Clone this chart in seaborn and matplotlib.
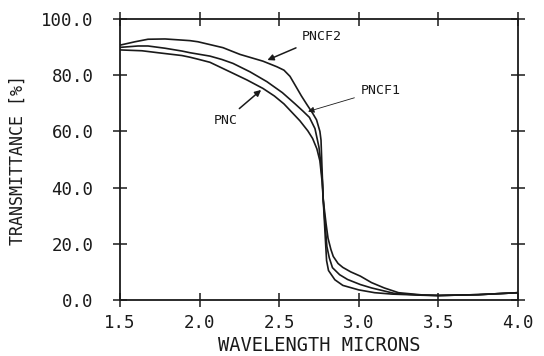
import numpy as np
import pandas as pd
import matplotlib
matplotlib.use("Agg")
import matplotlib.pyplot as plt
import seaborn as sns

# Data
pnc_x = [1.50, 1.638, 1.739, 1.889, 1.94, 1.99, 2.065, 2.191, 2.298, 2.398, 2.47, 2.53, 2.58, 2.63,
         2.68, 2.71, 2.737, 2.756, 2.770, 2.777, 2.790, 2.798, 2.810, 2.850, 2.900, 3.00, 3.10,
         3.209, 3.353, 3.50, 3.75, 4.00]
pnc_y = [89.0, 88.7, 88.0, 87.0, 86.4, 85.7, 84.6, 81.2, 78.3, 75.3, 72.6, 69.8, 66.8, 63.8,
         60.2, 57.5, 53.8, 49.5, 42.0, 35.6, 22.0, 14.0, 10.5, 7.2, 5.2, 3.6, 2.6,
         2.1, 1.8, 1.6, 1.9, 2.6]

pncf1_x = [1.50, 1.613, 1.676, 1.783, 1.889, 1.94, 2.065, 2.14, 2.21, 2.317, 2.423, 2.52, 2.60,
           2.65, 2.69, 2.725, 2.750, 2.763, 2.772, 2.777, 2.790, 2.800, 2.815, 2.835, 2.88, 2.93,
           3.01, 3.08, 3.22, 3.397, 3.50, 3.75, 4.00]
pncf1_y = [89.9, 90.4, 90.4, 89.6, 88.6, 88.0, 86.8, 85.6, 84.2, 81.2, 77.7, 73.8, 69.8,
           67.2, 65.0, 61.0, 54.4, 48.0, 42.0, 35.6, 26.0, 19.0, 15.0, 11.5, 9.0, 7.3,
           5.5, 4.3, 2.4, 1.7, 1.6, 1.9, 2.6]

pncf2_x = [1.50, 1.594, 1.676, 1.783, 1.889, 1.94, 1.99, 2.147, 2.254, 2.398, 2.486, 2.53, 2.568,
           2.60, 2.64, 2.675, 2.71, 2.735, 2.756, 2.763, 2.769, 2.777, 2.795, 2.807, 2.825, 2.84,
           2.87, 2.90, 2.95, 3.01, 3.08, 3.16, 3.25, 3.40, 3.50, 3.75, 4.00]
pncf2_y = [90.7, 91.9, 92.8, 92.9, 92.5, 92.3, 91.9, 89.8, 87.4, 85.0, 83.0, 81.8, 79.6,
           76.5, 72.6, 69.5, 66.5, 64.1, 60.0, 56.9, 47.3, 35.6, 27.0, 22.0, 18.0, 15.5,
           13.0, 11.6, 10.0, 8.5, 6.2, 4.3, 2.6, 1.8, 1.6, 1.9, 2.6]

x_ticks = [1.5, 2.0, 2.5, 3.0, 3.5, 4.0]
y_ticks = [0, 20, 40, 60, 80, 100]

sns.set_style("ticks")
mono = ["DejaVu Sans Mono", "DejaVu Sans"]
plt.rcParams["font.family"] = mono

fig = plt.figure(figsize=(5.44, 3.56), dpi=100)
ax = fig.add_axes([0.2206, 0.1573, 0.952 - 0.2206, 0.9466 - 0.1573])

ink = "#1a1a1a"
for xs, ys in [(pnc_x, pnc_y), (pncf1_x, pncf1_y), (pncf2_x, pncf2_y)]:
    df = pd.DataFrame({"x": xs, "y": ys})
    sns.lineplot(data=df, x="x", y="y", ax=ax, color=ink, linewidth=1.2,
                 sort=False, estimator=None)

ax.set_xlim(1.5, 4.0)
ax.set_ylim(0, 100)
ax.set_xticks(x_ticks)
ax.set_yticks(y_ticks)
ax.set_xticklabels([f"{v:.1f}" for v in x_ticks])
ax.set_yticklabels([f"{v:.1f}" for v in y_ticks])
ax.tick_params(axis="both", which="both", direction="inout", length=10, width=1.1,
               color=ink, labelsize=12.5, labelcolor=ink, top=True, right=True)
ax.tick_params(axis="x", pad=5)
ax.tick_params(axis="y", pad=14)
for s in ax.spines.values():
    s.set_linewidth(1.3)
    s.set_color(ink)

ax.set_xlabel("WAVELENGTH MICRONS", fontsize=13.5, color=ink, labelpad=3)
ax.set_ylabel("TRANSMITTANCE [%]", fontsize=12, color=ink, labelpad=10)

arrow = dict(arrowstyle="-|>", color=ink, lw=1.1, mutation_scale=9)
ax.annotate("PNCF2", xy=(2.41, 85.0), xytext=(2.64, 93.6), fontsize=9.5,
            color=ink, arrowprops=arrow, ha="left", va="center")
ax.annotate("PNC", xy=(2.40, 75.4), xytext=(2.24, 64.0), fontsize=9.5,
            color=ink, arrowprops=arrow, ha="right", va="center")
ax.annotate("PNCF1", xy=(2.665, 66.8), xytext=(3.01, 74.7), fontsize=9.5,
            color=ink, arrowprops=dict(arrowstyle="-|>", color=ink, lw=0.6,
                                       mutation_scale=9),
            ha="left", va="center")

fig.savefig("out.png", dpi=100, facecolor="white")
